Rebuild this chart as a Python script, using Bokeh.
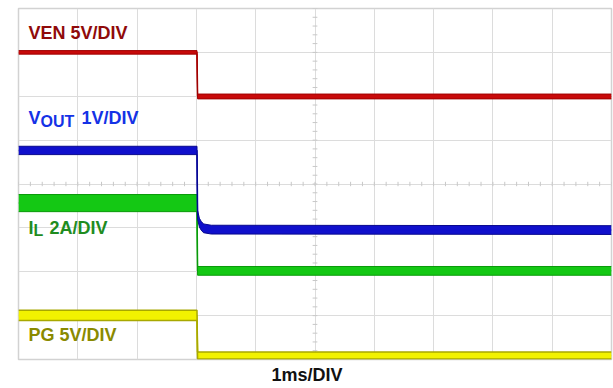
import numpy as np
from bokeh.plotting import figure
from bokeh.models import Label, FixedTicker, Title
from bokeh.embed import file_html
from bokeh.resources import INLINE

# Time in ms (1 ms/DIV), amplitude in scope divisions (0 = bottom graticule line)
ven_t = [0.0, 3.01, 3.02, 10.0]
ven_hi = [7.04, 7.04, 6.05, 6.05]
ven_lo = [6.96, 6.96, 5.94, 5.94]

vout_t = [0.0, 3.01, 3.02, 3.05, 3.08, 3.12, 3.25, 10.0]
vout_hi = [4.86, 4.86, 3.40, 3.22, 3.15, 3.09, 3.06, 3.05]
vout_lo = [4.67, 4.67, 3.20, 3.02, 2.95, 2.89, 2.86, 2.85]

il_t = [0.0, 3.01, 3.02, 10.0]
il_hi = [3.76, 3.76, 2.12, 2.12]
il_lo = [3.37, 3.37, 1.92, 1.92]

pg_t = [0.0, 3.01, 3.02, 10.0]
pg_hi = [1.12, 1.12, 0.17, 0.17]
pg_lo = [0.89, 0.89, 0.01, 0.01]

x_divs = list(range(0, 11))
y_divs = list(range(0, 9))

W, H = 613, 388
L, R, T, B = 18, 2, 8, 29
p = figure(width=W, height=H, x_range=(0, 10), y_range=(0, 8),
           output_backend="svg", toolbar_location=None,
           x_axis_location=None, y_axis_location=None,
           min_border_left=L, min_border_right=R, min_border_top=T, min_border_bottom=B)
p.background_fill_color = "white"
p.border_fill_color = "white"
p.outline_line_color = "#d2d2d2"
p.outline_line_width = 1.5

p.xgrid.ticker = FixedTicker(ticks=x_divs)
p.ygrid.ticker = FixedTicker(ticks=y_divs)
p.xgrid.grid_line_color = "#dcdcdc"
p.ygrid.grid_line_color = "#dcdcdc"
p.xgrid.grid_line_width = 1
p.ygrid.grid_line_width = 1

# minor ticks on the centre graticule lines
mx = np.arange(0, 10.001, 0.2)
p.segment(x0=mx, y0=4 - 0.05, x1=mx, y1=4 + 0.05, line_color="#c8c8c8", line_width=1)
my = np.arange(0, 8.001, 0.2)
p.segment(x0=5 - 0.04, y0=my, x1=5 + 0.04, y1=my, line_color="#c8c8c8", line_width=1)

def trace(t, hi, lo, fill, edge, ew, mid_w):
    mid = [(a + b) / 2 for a, b in zip(hi, lo)]
    p.varea(x=t, y1=lo, y2=hi, fill_color=fill)
    p.line(t, mid, line_color=fill, line_width=mid_w)
    if ew > 0:
        p.line(t, hi, line_color=edge, line_width=ew)
        p.line(t, lo, line_color=edge, line_width=ew)

trace(pg_t, pg_hi, pg_lo, "#f2f200", "#a8a800", 1.5, 1.5)
trace(il_t, il_hi, il_lo, "#14c814", "#0a9a0a", 1.0, 1.5)
trace(vout_t, vout_hi, vout_lo, "#1010cc", "#08088e", 1.0, 1.5)
trace(ven_t, ven_hi, ven_lo, "#c80a0a", "#a00000", 1.0, 1.5)

def dx(px):
    return (px - L) / ((W - L - R) / 10)

def dy(py):
    return (H - B - py) / ((H - T - B) / 8)

FONT = "Liberation Sans"
SHIFT = 8

def lab(px, py, text, color, size="18px"):
    p.add_layout(Label(x=dx(px), y=dy(py - SHIFT), text=text, text_color=color,
                       text_font=FONT, text_font_style="bold", text_font_size=size,
                       text_baseline="alphabetic", text_align="left"))

lab(28, 40, "VEN 5V/DIV", "#900a0a")
lab(28, 125, "V", "#1432e6")
lab(40, 129, "OUT", "#1432e6", "16px")
lab(81, 125, "1V/DIV", "#1432e6")
lab(28, 235, "I", "#1f8c1f")
lab(33, 238, "L", "#1f8c1f", "16px")
lab(49, 235, "2A/DIV", "#1f8c1f")
lab(28, 342, "PG 5V/DIV", "#8a8a00")

p.add_layout(Title(text="1ms/DIV", align="left", offset=271 - L, standoff=6,
                   text_font=FONT, text_font_style="bold", text_font_size="18px",
                   text_color="#111111"), "below")

open("out.html", "w").write(file_html(p, INLINE))
